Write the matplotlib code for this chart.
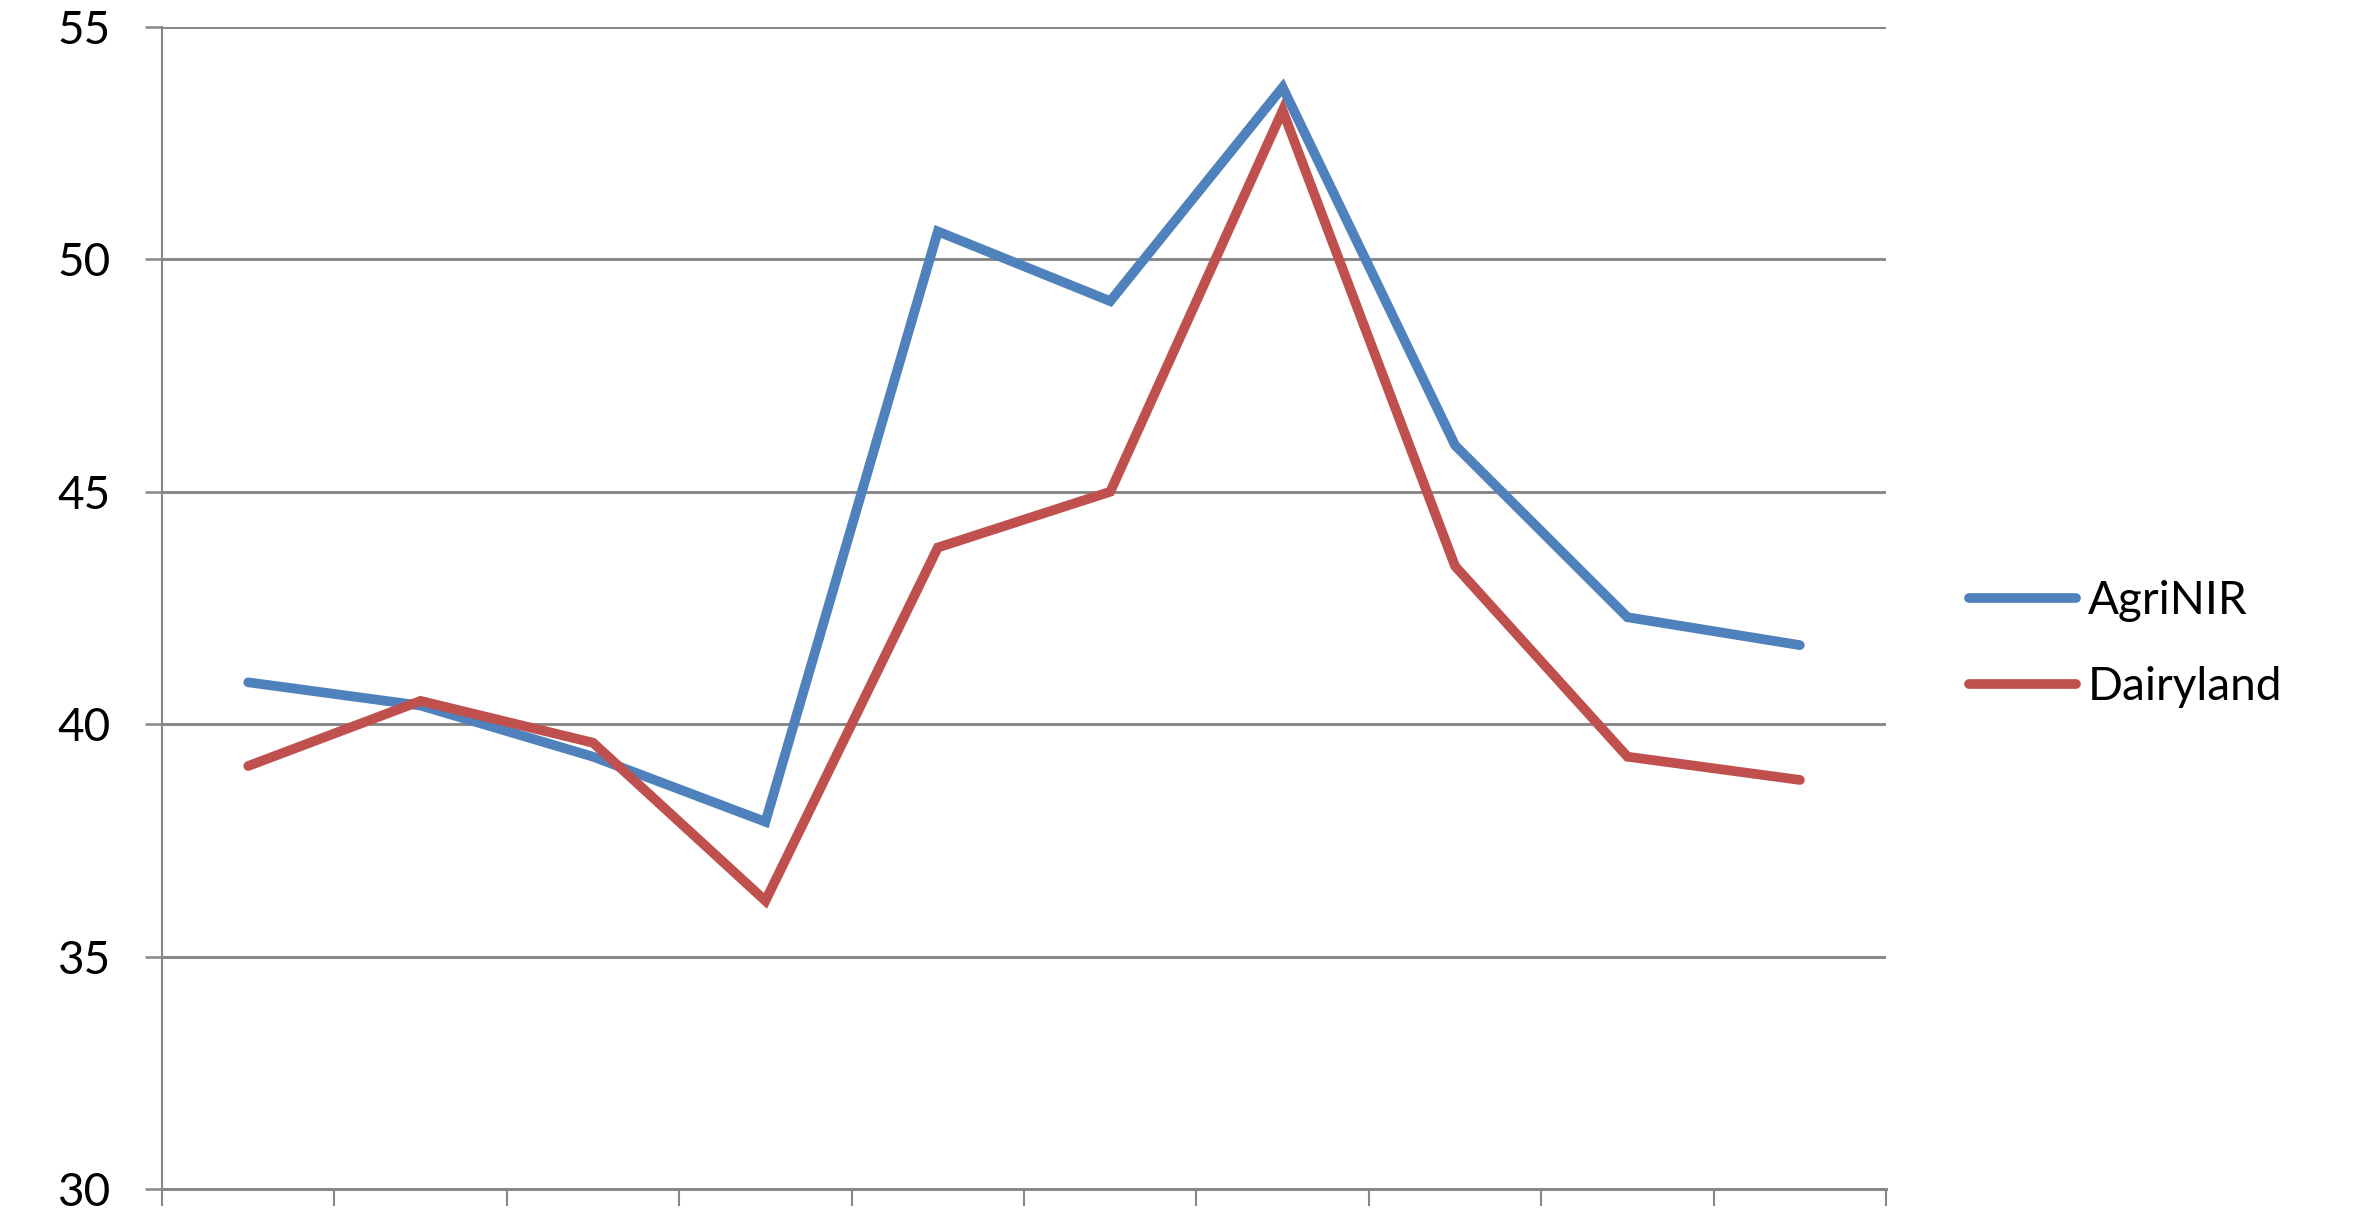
import matplotlib
matplotlib.use("Agg")
import matplotlib.pyplot as plt

categories = list(range(1, 11))
agrinir = [40.9, 40.4, 39.3, 37.9, 50.6, 49.1, 53.7, 46.0, 42.3, 41.7]
dairyland = [39.1, 40.5, 39.6, 36.2, 43.8, 45.0, 53.2, 43.4, 39.3, 38.8]
y_ticks = [30, 35, 40, 45, 50, 55]

plt.rcParams["font.family"] = ["Lato", "DejaVu Sans"]

fig = plt.figure(figsize=(23.62, 12.17), dpi=100)
ax = fig.add_axes([0.0686, 0.023, 0.7299, 0.9549])

x = list(range(len(categories)))
ax.plot(x, agrinir, color="#4F81BD", linewidth=7, label="AgriNIR",
        solid_capstyle="round", solid_joinstyle="miter")
ax.plot(x, dairyland, color="#C0504D", linewidth=7, label="Dairyland",
        solid_capstyle="round", solid_joinstyle="miter")

ax.set_ylim(30, 55)
ax.set_xlim(-0.5, len(categories) - 0.5)
ax.set_yticks(y_ticks)
ax.set_xticks([i - 0.5 for i in range(len(categories) + 1)])
ax.set_xticklabels([])
ax.yaxis.grid(True, color="#868686", linewidth=2.1)
ax.set_axisbelow(True)

for side in ["top", "right"]:
    ax.spines[side].set_visible(False)
ax.spines["left"].set_color("#868686")
ax.spines["left"].set_linewidth(1.5)
ax.spines["bottom"].set_color("#868686")
ax.spines["bottom"].set_linewidth(2.1)

ax.tick_params(axis="y", length=12, width=1.8, color="#868686", pad=25, labelsize=33)
ax.tick_params(axis="x", length=12, width=1.5, color="#868686")

fig.legend(
    loc="center left",
    bbox_to_anchor=(0.8336, 0.471),
    frameon=False,
    fontsize=33,
    handlelength=2.33,
    handletextpad=0.26,
    labelspacing=0.95,
    borderpad=0,
    borderaxespad=0,
)

fig.savefig("out.png", dpi=100)
